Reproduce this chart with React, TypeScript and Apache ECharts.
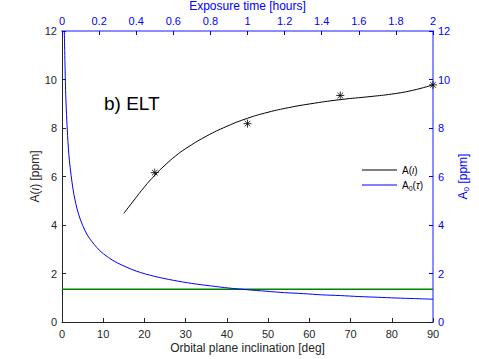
import React, { useEffect, useRef } from "react";
import * as echarts from "echarts";

// Bottom axis: orbital plane inclination [deg]; top axis: exposure time [hours]
const inclTicks = [0, 10, 20, 30, 40, 50, 60, 70, 80, 90];
const hourTicks = [0, 0.2, 0.4, 0.6, 0.8, 1, 1.2, 1.4, 1.6, 1.8, 2];

// A(iota) curve (black)
const curveIncl = [15, 17.5, 20, 22.5, 25, 27.5, 30, 35, 40, 45, 50, 55, 60, 67.5, 75, 80, 85, 90];
const curveA = [4.48, 5.03, 5.57, 6.05, 6.47, 6.84, 7.15, 7.66, 8.07, 8.4, 8.65, 8.84, 8.99, 9.17, 9.3, 9.4, 9.55, 9.78];

// Measured points (asterisks)
const starIncl = [22.5, 45, 67.5, 90];
const starA = [6.16, 8.18, 9.34, 9.78];

// Green constant line
const greenIncl = [0, 90];
const greenA = [1.35, 1.35];

// A0(tau) curve (blue), against exposure time in hours
const blueHours = [0.0125, 0.02, 0.03, 0.04, 0.06, 0.08, 0.1, 0.125, 0.15, 0.2, 0.25, 0.3, 0.4, 0.5, 0.6, 0.7, 0.8, 0.9, 1.0, 1.1, 1.2, 1.3, 1.4, 1.5, 1.6, 1.7, 1.8, 1.9, 2.0];
const blueA0 = [12.0, 9.4, 7.7, 6.65, 5.45, 4.7, 4.2, 3.75, 3.43, 2.97, 2.66, 2.43, 2.1, 1.88, 1.72, 1.59, 1.49, 1.4, 1.33, 1.27, 1.21, 1.17, 1.12, 1.09, 1.05, 1.02, 0.99, 0.965, 0.94];

const FONT = "'Liberation Sans', Arial, Helvetica, sans-serif";
const DARK = "#262626";
const BLUE = "#0000ff";
const STAR = "path://M5,0 L5,10 M0,5 L10,5 M1.5,1.5 L8.5,8.5 M1.5,8.5 L8.5,1.5";

export default function App() {
  const ref = useRef<HTMLDivElement>(null);
  useEffect(() => {
    if (!ref.current) return;
    const chart = echarts.init(ref.current, null, { renderer: "svg" });
    const zip = (a: number[], b: number[]) => a.map((v, i) => [v, b[i]]);
    chart.setOption({
      animation: false,
      backgroundColor: "#ffffff",
      textStyle: { fontFamily: FONT },
      grid: { left: 62, right: 46, top: 31, bottom: 37, containLabel: false, outerBoundsMode: "none" },
      legend: {
        orient: "vertical",
        left: 357,
        top: 160,
        itemWidth: 35,
        itemHeight: 1,
        itemGap: 5,
        icon: "rect",
        data: ["A(ι)", "A0(τ)"],
        textStyle: {
          fontFamily: FONT,
          fontSize: 10,
          color: "#000",
          rich: {
            i: { fontStyle: "italic", fontSize: 10, fontFamily: FONT, color: "#000" },
            s: { fontSize: 7, fontFamily: FONT, color: "#000", verticalAlign: "bottom", padding: [6, 0, 0, 0] },
          },
        },
        formatter: (n: string) => (n === "A(ι)" ? "A({i|ι})" : "A{s|0}({i|τ})"),
      },
      xAxis: [
        {
          type: "value",
          position: "bottom",
          min: 0,
          max: 90,
          interval: 10,
          name: "Orbital plane inclination [deg]",
          nameLocation: "middle",
          nameGap: 20,
          nameMoveOverlap: false,
          nameTextStyle: { fontSize: 12, color: DARK, fontFamily: FONT },
          axisLine: { show: true, onZero: false, lineStyle: { color: DARK, width: 1 } },
          axisTick: { show: true, inside: true, length: 4, lineStyle: { color: DARK } },
          axisLabel: { fontSize: 11, color: DARK, margin: 6, fontFamily: FONT },
          splitLine: { show: false },
        },
        {
          type: "value",
          position: "top",
          min: 0,
          max: 2,
          interval: 0.2,
          name: "Exposure time [hours]",
          nameLocation: "middle",
          nameGap: 19,
          nameMoveOverlap: false,
          nameTextStyle: { fontSize: 12, color: BLUE, fontFamily: FONT },
          axisLine: { show: true, onZero: false, lineStyle: { color: "#8c8cff", width: 2 } },
          axisTick: { show: true, inside: true, length: 4, lineStyle: { color: BLUE } },
          axisLabel: {
            fontSize: 11,
            color: BLUE,
            margin: 5,
            fontFamily: FONT,
            formatter: (v: number) => String(Math.round(v * 10) / 10),
          },
          splitLine: { show: false },
        },
      ],
      yAxis: [
        {
          type: "value",
          position: "left",
          min: 0,
          max: 12,
          interval: 2,
          name: "A({i|ι}) [ppm]",
          nameLocation: "middle",
          nameRotate: 90,
          nameGap: 21,
          nameMoveOverlap: false,
          nameTextStyle: {
            fontSize: 12,
            color: DARK,
            fontFamily: FONT,
            rich: { i: { fontStyle: "italic", fontSize: 12, color: DARK, fontFamily: FONT } },
          },
          axisLine: { show: true, onZero: false, lineStyle: { color: DARK, width: 1 } },
          axisTick: { show: true, inside: true, length: 4, lineStyle: { color: DARK } },
          axisLabel: { fontSize: 11, color: DARK, margin: 5, fontFamily: FONT },
          splitLine: { show: false },
        },
        {
          type: "value",
          position: "right",
          min: 0,
          max: 12,
          interval: 2,
          name: "A{s|0} [ppm]",
          nameLocation: "middle",
          nameRotate: 90,
          nameGap: 22,
          nameMoveOverlap: false,
          nameTextStyle: {
            fontSize: 12,
            color: BLUE,
            fontFamily: FONT,
            rich: { s: { fontSize: 8, color: BLUE, fontFamily: FONT, verticalAlign: "bottom", padding: [7, 0, 0, 0] } },
          },
          axisLine: { show: true, onZero: false, lineStyle: { color: "#8c8cff", width: 2 } },
          axisTick: { show: true, inside: true, length: 4, lineStyle: { color: BLUE } },
          axisLabel: { fontSize: 11, color: BLUE, margin: 5, fontFamily: FONT },
          splitLine: { show: false },
        },
      ],
      series: [
        {
          name: "A(ι)",
          type: "line",
          xAxisIndex: 0,
          yAxisIndex: 0,
          smooth: 0.5,
          showSymbol: false,
          symbol: "none",
          data: zip(curveIncl, curveA),
          lineStyle: { color: "#000", width: 1 },
          itemStyle: { color: "#000" },
        },
        {
          name: "points",
          type: "scatter",
          xAxisIndex: 0,
          yAxisIndex: 0,
          symbol: STAR,
          symbolSize: 8,
          data: zip(starIncl, starA),
          itemStyle: { color: "none", borderColor: "#000", borderWidth: 1 },
          z: 5,
        },
        {
          name: "const",
          type: "line",
          xAxisIndex: 0,
          yAxisIndex: 0,
          showSymbol: false,
          symbol: "none",
          data: zip(greenIncl, greenA),
          lineStyle: { color: "#008000", width: 1.5 },
        },
        {
          name: "A0(τ)",
          type: "line",
          xAxisIndex: 1,
          yAxisIndex: 1,
          smooth: 0.3,
          showSymbol: false,
          symbol: "none",
          data: zip(blueHours, blueA0),
          lineStyle: { color: BLUE, width: 1 },
          itemStyle: { color: BLUE },
        },
      ],
      graphic: [
        {
          type: "text",
          left: 104,
          top: 94,
          style: { text: "b) ELT", fontSize: 19, fill: "#000", fontFamily: FONT },
        },
      ],
    });
    return () => chart.dispose();
  }, []);
  return <div ref={ref} style={{ position: "fixed", left: 0, top: 0, width: 479, height: 359 }} />;
}
